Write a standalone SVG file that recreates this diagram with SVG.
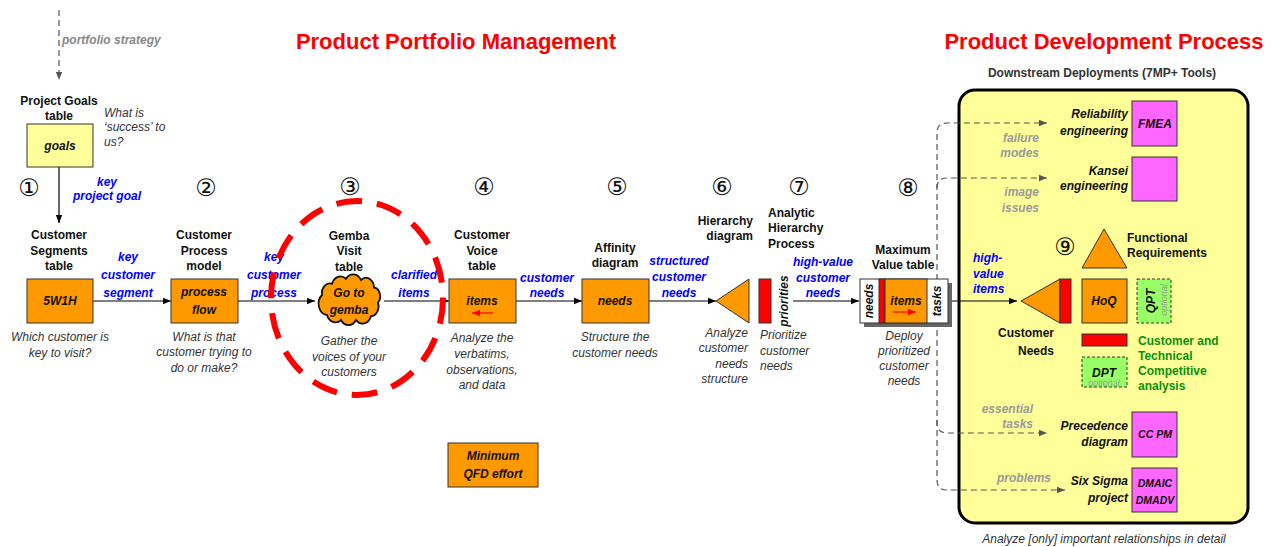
<svg xmlns="http://www.w3.org/2000/svg" width="1276" height="547" viewBox="0 0 1276 547">
<defs>
<style>
text{font-family:"Liberation Sans",Arial,sans-serif;font-size:12px}
.b{font-weight:bold;fill:#111}
.bi{font-weight:bold;font-style:italic;fill:#111}
.it{font-style:italic;fill:#333}
.bl{font-weight:bold;font-style:italic;fill:#0000ff}
.gr{font-weight:bold;font-style:italic;fill:#999}
.ttl{font-weight:bold;font-size:22px;fill:#ff0000}
.num{font-family:"DejaVu Sans",sans-serif;font-size:24px;fill:#111}
.mid{text-anchor:middle}
.end{text-anchor:end}
.or{fill:#ff9900;stroke:#333;stroke-width:1}
.mg{fill:#ff66ff;stroke:#333;stroke-width:1}
.gn{fill:#99ff66;stroke:#333;stroke-width:1;stroke-dasharray:3 2}
.rd{fill:#ff0000;stroke:#333;stroke-width:1}
.wh{fill:#fff;stroke:#333;stroke-width:1}
.ln{fill:none;stroke:#000;stroke-width:1.2}
.dl{fill:none;stroke:#555;stroke-width:1.2;stroke-dasharray:6 4}
.grn{font-weight:bold;fill:#0a8f0a}
.opt{font-style:italic;font-size:9px;fill:#999}
.sm{font-weight:bold;font-style:italic;font-size:10.5px;fill:#111}
</style>
<marker id="ah" viewBox="0 0 10 10" refX="10" refY="5" markerWidth="8" markerHeight="8" markerUnits="userSpaceOnUse" orient="auto"><path d="M0,1 L10,5 L0,9 z" fill="#000"/></marker>
<marker id="ahg" viewBox="0 0 10 10" refX="10" refY="5" markerWidth="8" markerHeight="8" markerUnits="userSpaceOnUse" orient="auto"><path d="M0,1 L10,5 L0,9 z" fill="#555"/></marker>
<marker id="ahr" viewBox="0 0 10 10" refX="10" refY="5" markerWidth="8" markerHeight="8" markerUnits="userSpaceOnUse" orient="auto"><path d="M0,1 L10,5 L0,9 z" fill="#ff0000"/></marker>
</defs>
<rect x="0" y="0" width="1276" height="547" fill="#fff"/>

<g id="titles">
<text class="ttl mid" x="456" y="49">Product Portfolio Management</text>
<text class="ttl mid" x="1104" y="49">Product Development Process</text>
<text class="b mid" x="1102" y="77" style="fill:#333">Downstream Deployments (7MP+ Tools)</text>
</g>

<g id="panel">
<rect x="959" y="90" width="289" height="433" rx="16" fill="#ffff99" stroke="#000" stroke-width="3"/>
<text class="it mid" x="1104" y="543">Analyze [only] important relationships in detail</text>
</g>

<g id="connectors">
<line class="dl" x1="59" y1="10" x2="59" y2="80" marker-end="url(#ahg)"/>
<text class="gr" x="62" y="44" style="fill:#888">portfolio strategy</text>
<line class="ln" x1="59" y1="167" x2="59" y2="223" marker-end="url(#ah)"/>
<text class="bl mid" x="107" y="186">key</text>
<text class="bl mid" x="107" y="200">project goal</text>
<line class="ln" x1="93" y1="301" x2="171" y2="301" marker-end="url(#ah)"/>
<text class="bl mid" x="128" y="261">key</text>
<text class="bl mid" x="128" y="279">customer</text>
<text class="bl mid" x="128" y="297">segment</text>
<line class="ln" x1="238" y1="301" x2="315" y2="301" marker-end="url(#ah)"/>
<text class="bl mid" x="274" y="261">key</text>
<text class="bl mid" x="274" y="279">customer</text>
<text class="bl mid" x="274" y="297">process</text>
<line class="ln" x1="384" y1="301" x2="449" y2="301" marker-end="url(#ah)"/>
<text class="bl mid" x="414" y="279">clarified</text>
<text class="bl mid" x="414" y="297">items</text>
<line class="ln" x1="516" y1="301" x2="582" y2="301" marker-end="url(#ah)"/>
<text class="bl mid" x="547" y="282">customer</text>
<text class="bl mid" x="547" y="297">needs</text>
<line class="ln" x1="649" y1="301" x2="716" y2="301" marker-end="url(#ah)"/>
<text class="bl mid" x="679" y="265">structured</text>
<text class="bl mid" x="679" y="281">customer</text>
<text class="bl mid" x="679" y="297">needs</text>
<line class="ln" x1="793" y1="301" x2="859" y2="301" marker-end="url(#ah)"/>
<text class="bl mid" x="823" y="266">high-value</text>
<text class="bl mid" x="823" y="282">customer</text>
<text class="bl mid" x="823" y="297">needs</text>
<path class="dl" d="M937,300 V133 Q937,123 947,123 H1047" marker-end="url(#ahg)"/>
<path class="dl" d="M937,188 Q937,178 947,178 H1047" marker-end="url(#ahg)"/>
<path class="dl" d="M937,300 V423 Q937,433 947,433 H1047" marker-end="url(#ahg)"/>
<path class="dl" d="M937,420 V480 Q937,490 947,490 H1065" marker-end="url(#ahg)"/>
<text class="gr end" x="1039" y="142">failure</text>
<text class="gr end" x="1039" y="157">modes</text>
<text class="gr end" x="1039" y="196">image</text>
<text class="gr end" x="1039" y="212">issues</text>
<text class="gr end" x="1033" y="413">essential</text>
<text class="gr end" x="1033" y="428">tasks</text>
<text class="gr end" x="1051" y="482">problems</text>
<line class="ln" x1="952" y1="301" x2="1017" y2="301" marker-end="url(#ah)"/>
<text class="bl" x="973" y="262">high-</text>
<text class="bl" x="973" y="278">value</text>
<text class="bl" x="973" y="293">items</text>
</g>

<g id="goals">
<text class="b mid" x="59" y="105">Project Goals</text>
<text class="b mid" x="59" y="120">table</text>
<rect x="27" y="124" width="66" height="43" fill="#ffff99" stroke="#333"/>
<text class="bi mid" x="60" y="150">goals</text>
<text class="it" x="104" y="117">What is</text>
<text class="it" x="104" y="131">‘success’ to</text>
<text class="it" x="104" y="146">us?</text>
</g>

<g id="step-numbers">
<text class="num mid" x="29" y="196">①</text>
<text class="num mid" x="206" y="196">②</text>
<text class="num mid" x="350" y="195">③</text>
<text class="num mid" x="484" y="195">④</text>
<text class="num mid" x="617" y="195">⑤</text>
<text class="num mid" x="722" y="195">⑥</text>
<text class="num mid" x="799" y="195">⑦</text>
<text class="num mid" x="908" y="196">⑧</text>
<text class="num mid" x="1065" y="255">⑨</text>
</g>

<g id="segments">
<text class="b mid" x="59" y="239">Customer</text>
<text class="b mid" x="59" y="255">Segments</text>
<text class="b mid" x="59" y="270">table</text>
<rect class="or" x="27" y="279" width="66" height="44"/>
<text class="bi mid" x="60" y="305">5W1H</text>
<text class="it mid" x="60" y="341">Which customer is</text>
<text class="it mid" x="60" y="357">key to visit?</text>
</g>

<g id="process">
<text class="b mid" x="204" y="239">Customer</text>
<text class="b mid" x="204" y="255">Process</text>
<text class="b mid" x="204" y="270">model</text>
<rect class="or" x="171" y="279" width="67" height="44"/>
<text class="bi mid" x="204" y="296">process</text>
<text class="bi mid" x="204" y="314">flow</text>
<text class="it mid" x="204" y="341">What is that</text>
<text class="it mid" x="204" y="356">customer trying to</text>
<text class="it mid" x="204" y="372">do or make?</text>
</g>

<g id="gemba">
<ellipse cx="357" cy="298" rx="86" ry="97" fill="none" stroke="#ff0000" stroke-width="6" stroke-dasharray="26 15"/>
<text class="b mid" x="349" y="240">Gemba</text>
<text class="b mid" x="349" y="255">Visit</text>
<text class="b mid" x="349" y="271">table</text>
<path transform="translate(0,-75) scale(1,1.25)" vector-effect="non-scaling-stroke" d="M322,296 a8,8 0 0 1 10,-9 a9,9 0 0 1 14,-4 a9,9 0 0 1 15,1 a8,8 0 0 1 13,6 a7,7 0 0 1 4,12 a8,8 0 0 1 -7,11 a9,9 0 0 1 -15,3 a9,9 0 0 1 -15,0 a9,9 0 0 1 -14,-4 a9,9 0 0 1 -5,-16 z" fill="#ff9900" stroke="#111" stroke-width="1.8"/>
<text class="bi mid" x="349" y="297">Go to</text>
<text class="bi mid" x="349" y="314">gemba</text>
<text class="it mid" x="349" y="345">Gather the</text>
<text class="it mid" x="349" y="361">voices of your</text>
<text class="it mid" x="349" y="376">customers</text>
</g>

<g id="voice">
<text class="b mid" x="482" y="239">Customer</text>
<text class="b mid" x="482" y="255">Voice</text>
<text class="b mid" x="482" y="270">table</text>
<rect class="or" x="449" y="279" width="67" height="44"/>
<text class="bi mid" x="482" y="305">items</text>
<line x1="493" y1="313" x2="472" y2="313" stroke="#ff0000" stroke-width="1.2" marker-end="url(#ahr)"/>
<text class="it mid" x="482" y="342">Analyze the</text>
<text class="it mid" x="482" y="358">verbatims,</text>
<text class="it mid" x="482" y="374">observations,</text>
<text class="it mid" x="482" y="389">and data</text>
</g>

<g id="affinity">
<text class="b mid" x="615" y="252">Affinity</text>
<text class="b mid" x="615" y="267">diagram</text>
<rect class="or" x="582" y="279" width="67" height="44"/>
<text class="bi mid" x="615" y="305">needs</text>
<text class="it mid" x="615" y="341">Structure the</text>
<text class="it mid" x="615" y="357">customer needs</text>
</g>

<g id="hierarchy">
<text class="b end" x="753" y="225">Hierarchy</text>
<text class="b end" x="753" y="240">diagram</text>
<path class="or" d="M716,301 L749,279 L749,323 z"/>
<text class="it end" x="748" y="337">Analyze</text>
<text class="it end" x="748" y="352">customer</text>
<text class="it end" x="748" y="368">needs</text>
<text class="it end" x="748" y="383">structure</text>
</g>

<g id="ahp">
<text class="b" x="768" y="217">Analytic</text>
<text class="b" x="768" y="232">Hierarchy</text>
<text class="b" x="768" y="248">Process</text>
<rect class="rd" x="759" y="279" width="12" height="44"/>
<text class="bi mid" x="784" y="305" transform="rotate(-90 784 301)">priorities</text>
<text class="it" x="760" y="339">Prioritize</text>
<text class="it" x="760" y="355">customer</text>
<text class="it" x="760" y="370">needs</text>
</g>

<g id="max-value">
<text class="b mid" x="903" y="254">Maximum</text>
<text class="b mid" x="903" y="269">Value table</text>
<rect x="864" y="283" width="88" height="44" fill="#666"/>
<rect class="wh" x="860" y="279" width="88" height="44"/>
<rect class="rd" x="879" y="279" width="6" height="44"/>
<rect class="or" x="885" y="279" width="42" height="44"/>
<text class="bi mid" x="869" y="305" transform="rotate(-90 869 301)">needs</text>
<text class="bi mid" x="906" y="305">items</text>
<line x1="893" y1="312" x2="916" y2="312" stroke="#ff0000" stroke-width="1.2" marker-end="url(#ahr)"/>
<text class="bi mid" x="937" y="305" transform="rotate(-90 937 301)">tasks</text>
<text class="it mid" x="904" y="340">Deploy</text>
<text class="it mid" x="904" y="355">prioritized</text>
<text class="it mid" x="904" y="370">customer</text>
<text class="it mid" x="904" y="385">needs</text>
</g>

<g id="fmea">
<text class="bi end" x="1128" y="118">Reliability</text>
<text class="bi end" x="1128" y="135">engineering</text>
<rect class="mg" x="1132" y="101" width="45" height="45"/>
<text class="bi mid" x="1155" y="128">FMEA</text>
</g>

<g id="kansei">
<text class="bi end" x="1128" y="175">Kansei</text>
<text class="bi end" x="1128" y="190">engineering</text>
<rect class="mg" x="1132" y="157" width="45" height="44"/>
</g>

<g id="functional">
<path class="or" d="M1104,229 L1127,268 L1082,268 z"/>
<text class="b" x="1127" y="242">Functional</text>
<text class="b" x="1127" y="257">Requirements</text>
</g>

<g id="customer-needs">
<path class="or" d="M1021,301 L1060,279 L1060,323 z"/>
<rect class="rd" x="1060" y="279" width="11" height="44"/>
<text class="b end" x="1054" y="337">Customer</text>
<text class="b end" x="1054" y="355">Needs</text>
</g>

<g id="hoq">
<rect class="or" x="1082" y="279" width="45" height="44"/>
<text class="bi mid" x="1104" y="305">HoQ</text>
</g>

<g id="qpt">
<rect class="gn" x="1137" y="279" width="34" height="44"/>
<text class="bi mid" x="1151" y="305" transform="rotate(-90 1151 301)">QPT</text>
<text class="opt mid" x="1164" y="303" transform="rotate(-90 1164 300)">optional</text>
</g>

<g id="competitive">
<rect class="rd" x="1082" y="334" width="45" height="12"/>
<text class="grn" x="1138" y="345">Customer and</text>
<text class="grn" x="1138" y="360">Technical</text>
<text class="grn" x="1138" y="375">Competitive</text>
<text class="grn" x="1138" y="390">analysis</text>
</g>

<g id="dpt">
<rect class="gn" x="1082" y="357" width="45" height="30"/>
<text class="bi mid" x="1104" y="377">DPT</text>
<text class="opt mid" x="1104" y="386">optional</text>
</g>

<g id="precedence">
<text class="bi end" x="1128" y="430">Precedence</text>
<text class="bi end" x="1128" y="446">diagram</text>
<rect class="mg" x="1132" y="412" width="45" height="45"/>
<text class="sm mid" x="1155" y="438">CC PM</text>
</g>

<g id="six-sigma">
<text class="bi end" x="1128" y="485">Six Sigma</text>
<text class="bi end" x="1128" y="502">project</text>
<rect class="mg" x="1132" y="468" width="45" height="44"/>
<text class="sm mid" x="1155" y="487">DMAIC</text>
<text class="sm mid" x="1155" y="504">DMADV</text>
</g>

<g id="minimum-qfd">
<rect class="or" x="448" y="443" width="90" height="44"/>
<text class="bi mid" x="493" y="460">Minimum</text>
<text class="bi mid" x="493" y="478">QFD effort</text>
</g>
</svg>
